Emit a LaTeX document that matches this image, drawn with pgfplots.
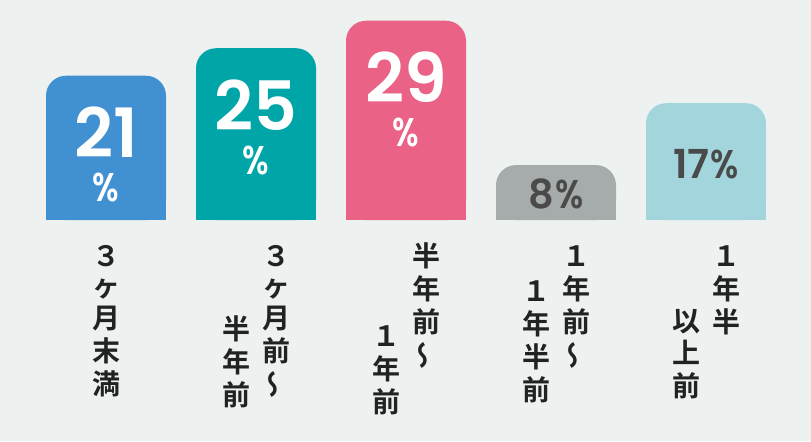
\documentclass[border=0pt]{standalone}
\usepackage{pgfplots}
\pgfplotsset{compat=1.18}
\usepackage{fontspec}
\usepackage{graphicx}
\setmainfont{Poppins}
\newfontfamily\numf{Poppins}[UprightFont={* SemiBold}]
\newfontfamily\jp{Noto Sans CJK JP Bold}

\definecolor{bgc}{HTML}{EDF2F1}
\definecolor{cblue}{HTML}{4190D2}
\definecolor{cteal}{HTML}{00A5A7}
\definecolor{cpink}{HTML}{EB6287}
\definecolor{cgray}{HTML}{A6ABAB}
\definecolor{ccyan}{HTML}{A2D6DC}
\definecolor{txtdark}{HTML}{4A4A4A}
\definecolor{lbl}{HTML}{222222}

\newcommand\cclap[1]{\hbox to 0pt{\hss#1\hss}}
% big value: number with the percent sign under it
\newcommand\bigv[1]{\cclap{\numf\fontsize{68}{68}\selectfont#1}%
  \cclap{\raisebox{-44pt}{\numf\fontsize{40}{40}\selectfont\scalebox{0.8}[1]{\%}}}}
\newcommand\smallv[1]{\numf\fontsize{40}{40}\selectfont#1\kern1pt\scalebox{0.85}[1]{\%}}
% one vertical column of characters
\newcommand\vc[1]{\begin{tabular}[t]{@{}c@{}}#1\end{tabular}}
\newcommand\wave{\rotatebox{90}{\reflectbox{～}}}

\begin{document}
\begin{tikzpicture}
\fill[bgc] (0,-221pt) rectangle (811pt,220pt);
\begin{axis}[
  at={(0pt,0pt)}, anchor=south west,
  scale only axis,
  width=811pt, height=220pt,
  xmin=-0.70667, xmax=4.7,
  ymin=0, ymax=32,
  axis line style={draw=none},
  major tick length=0pt,
  ytick=\empty,
  xtick={0,1,2,3,4},
  xticklabels={
    \vc{３\\ヶ\\月\\末\\満},
    \raisebox{-73pt}{\vc{半\\年\\前}}\hspace{12pt}\vc{３\\ヶ\\月\\前\\\wave},
    \raisebox{-80pt}{\vc{１\\年\\前}}\hspace{12pt}\vc{半\\年\\前\\\wave},
    \raisebox{-35pt}{\vc{１\\年\\半\\前}}\hspace{12pt}\vc{１\\年\\前\\\wave},
    \raisebox{-65pt}{\vc{以\\上\\前}}\hspace{12pt}\vc{１\\年\\半}
  },
  xticklabel style={
    anchor=base, yshift=-46pt, inner sep=0pt, text=lbl,
    font=\jp\fontsize{28}{30.5}\selectfont
  },
  ybar, bar width=120pt, bar shift=0pt,
  /pgf/number format/assume math mode=true,
  every node near coord/.append style={anchor=base, inner sep=0pt},
]
% 3ヶ月未満
\addplot[fill=cblue, draw=none, rounded corners=20pt,
  nodes near coords={\bigv{\pgfmathprintnumber{\pgfplotspointmeta}}},
  every node near coord/.append style={text=white, anchor=base, yshift=-82pt}]
  coordinates {(0,21)};
\addplot[fill=cblue, draw=none] coordinates {(0,3)};
% 3ヶ月前～半年前
\addplot[fill=cteal, draw=none, rounded corners=20pt,
  nodes near coords={\bigv{\pgfmathprintnumber{\pgfplotspointmeta}}},
  every node near coord/.append style={text=white, anchor=base, yshift=-82pt}]
  coordinates {(1,25)};
\addplot[fill=cteal, draw=none] coordinates {(1,3)};
% 半年前～1年前
\addplot[fill=cpink, draw=none, rounded corners=20pt,
  nodes near coords={\bigv{\pgfmathprintnumber{\pgfplotspointmeta}}},
  every node near coord/.append style={text=white, anchor=base, yshift=-82pt}]
  coordinates {(2,29)};
\addplot[fill=cpink, draw=none] coordinates {(2,3)};
% 1年前～1年半前
\addplot[fill=cgray, draw=none, rounded corners=20pt,
  nodes near coords={\smallv{\pgfmathprintnumber{\pgfplotspointmeta}}},
  every node near coord/.append style={text=txtdark, anchor=base, yshift=-43pt}]
  coordinates {(3,8)};
\addplot[fill=cgray, draw=none] coordinates {(3,3)};
% 1年半以上前
\addplot[fill=ccyan, draw=none, rounded corners=20pt,
  nodes near coords={\smallv{\pgfmathprintnumber{\pgfplotspointmeta}}},
  every node near coord/.append style={text=txtdark, anchor=base, yshift=-75pt}]
  coordinates {(4,17)};
\addplot[fill=ccyan, draw=none] coordinates {(4,3)};
\end{axis}
\end{tikzpicture}
\end{document}
